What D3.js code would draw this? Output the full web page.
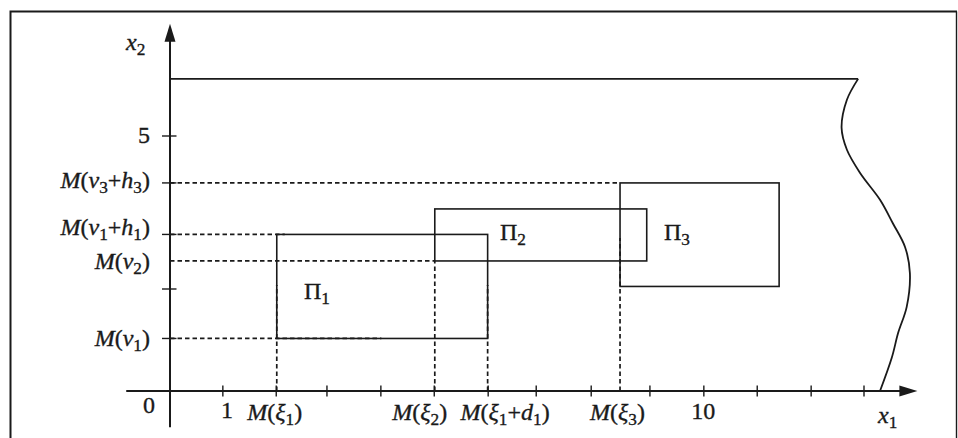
<!DOCTYPE html>
<html>
<head>
<meta charset="utf-8">
<script src="https://cdn.jsdelivr.net/npm/d3@7"></script>
<style>
  html, body { margin: 0; padding: 0; background: #fff; }
  svg { display: block; }
  text { font-family: "Liberation Serif", "Times New Roman", serif; fill: #1a1a1a; stroke: #1a1a1a; stroke-width: 0.35; }
</style>
</head>
<body>
<svg id="chart" width="958" height="438"></svg>
<script>
// ---------------- DATA ----------------
// x-axis tick positions (units of x1)
const xTicks = [0.99, 1.99, 2.94, 3.95, 4.95, 5.96, 6.86, 7.89, 8.99, 10.0, 11.0, 12.01, 13.0];
// labelled x positions
const xLabels = [
  { v: 0,    text: "0" },
  { v: 1,    text: "1" },
  { v: 2,    text: "M(ξ_1)" },
  { v: 4.96, text: "M(ξ_2)" },
  { v: 5.95, text: "M(ξ_1+d_1)" },
  { v: 8.43, text: "M(ξ_3)" },
  { v: 10,   text: "10" }
];
// y-axis tick positions (units of x2)
const yTicks = [1.03, 2, 3.07, 4.08, 5];
const yLabels = [
  { v: 5,    text: "5" },
  { v: 4.08, text: "M(ν_3+h_3)" },
  { v: 3.07, text: "M(ν_1+h_1)" },
  { v: 2.55, text: "M(ν_2)" },
  { v: 1.03, text: "M(ν_1)" }
];
// rectangles Π1, Π2, Π3 : [x0, x1, y0, y1]
const rectNames = ["Π_1", "Π_2", "Π_3"];
const rectX0 = [2, 4.96, 8.43];
const rectX1 = [5.95, 8.93, 11.41];
const rectY0 = [1.03, 2.55, 2.05];
const rectY1 = [3.07, 3.57, 4.08];
// dashed guide lines: horizontal [y, xFrom, xTo], vertical [x, yFrom, yTo]
const hDashY    = [1.03, 3.07, 2.55, 4.08];
const hDashFrom = [0, 0, 0, 0];
const hDashTo   = [3.96, 2.15, 4.96, 8.43];
const vDashX    = [2, 4.96, 5.95, 8.43];
const vDashFrom = [0, 0, 0, 0];
const vDashTo   = [2.08, 2.55, 2.08, 3.0];
// upper boundary of the region
const topY = 6.12;
const boundaryX = [12.89, 12.68, 12.58, 12.68, 12.93, 13.30, 13.54, 13.77, 13.86, 13.80, 13.64, 13.52, 13.30];
const boundaryY = [6.12, 5.71, 5.16, 4.73, 4.27, 3.75, 3.29, 2.82, 2.31, 1.65, 1.14, 0.65, 0];
// axis extents
const xAxisFrom = -0.82, xAxisTo = 14.0;
const yAxisFrom = -0.71, yAxisTo = 7.2;

// ---------------- LAYOUT ----------------
const ink = "#1a1a1a";
const FS = 24;
const svg = d3.select("#chart");
svg.append("rect").attr("width", 958).attr("height", 438).attr("fill", "#fff");

const x = d3.scaleLinear().domain([0, 13]).range([170, 864]);
const y = d3.scaleLinear().domain([0, 5]).range([391, 136]);

// frame
svg.append("path")
  .attr("d", `M10.5,440 L10.5,11.5 L957,11.5`)
  .attr("fill", "none").attr("stroke", ink).attr("stroke-width", 2);
svg.append("line").attr("x1", 956.5).attr("x2", 956.5).attr("y1", 11.5).attr("y2", 440)
  .attr("stroke", ink).attr("stroke-width", 1.4);

// rich text helper: "_" makes next char subscript; latin/greek lowercase & M italic
function rich(sel, str, size) {
  sel.attr("font-size", size);
  let i = 0;
  let wasSub = false;
  while (i < str.length) {
    let ch = str[i];
    let sub = false;
    if (ch === "_") { sub = true; i++; ch = str[i]; }
    const italic = /[A-Za-zα-ωξν]/.test(ch) && ch !== "Π";
    const t = sel.append("tspan").text(ch);
    if (italic) t.attr("font-style", "italic");
    if (sub) {
      t.attr("font-size", size * 0.72).attr("dy", size * 0.2);
      wasSub = true;
    } else if (wasSub) {
      t.attr("dy", -size * 0.2);
      wasSub = false;
    }
    i++;
  }
  return sel;
}

// dashed guides
const dash = "4.5,3";
hDashY.forEach((v, k) => {
  svg.append("line")
    .attr("x1", x(hDashFrom[k])).attr("x2", x(hDashTo[k]))
    .attr("y1", y(v)).attr("y2", y(v))
    .attr("stroke", ink).attr("stroke-width", 1.7).attr("stroke-dasharray", dash);
});
vDashX.forEach((v, k) => {
  svg.append("line")
    .attr("x1", x(v)).attr("x2", x(v))
    .attr("y1", y(vDashFrom[k])).attr("y2", y(vDashTo[k]))
    .attr("stroke", ink).attr("stroke-width", 1.7).attr("stroke-dasharray", dash);
});

// rectangles
rectNames.forEach((n, k) => {
  svg.append("rect")
    .attr("x", x(rectX0[k])).attr("y", y(rectY1[k]))
    .attr("width", x(rectX1[k]) - x(rectX0[k]))
    .attr("height", y(rectY0[k]) - y(rectY1[k]))
    .attr("fill", "none").attr("stroke", ink).attr("stroke-width", 1.6);
});
// rectangle labels
const rectLabelAt = [[304, 299], [500, 240], [664, 240]];
rectNames.forEach((n, k) => {
  rich(svg.append("text").attr("x", rectLabelAt[k][0]).attr("y", rectLabelAt[k][1]), n, FS);
});

// upper boundary
svg.append("line")
  .attr("x1", x(0)).attr("x2", x(boundaryX[0]))
  .attr("y1", y(topY)).attr("y2", y(topY))
  .attr("stroke", ink).attr("stroke-width", 1.8);
const line = d3.line().x((d, i) => x(boundaryX[i])).y((d, i) => y(boundaryY[i])).curve(d3.curveCatmullRom.alpha(0.5));
svg.append("path").datum(boundaryX).attr("d", line)
  .attr("fill", "none").attr("stroke", ink).attr("stroke-width", 1.8);

// axes
svg.append("line").attr("x1", x(xAxisFrom)).attr("x2", x(xAxisTo) - 14)
  .attr("y1", y(0)).attr("y2", y(0)).attr("stroke", ink).attr("stroke-width", 2);
svg.append("path")
  .attr("d", `M${x(xAxisTo)},${y(0)} L${x(xAxisTo) - 18},${y(0) - 5.5} L${x(xAxisTo) - 18},${y(0) + 5.5} Z`)
  .attr("fill", ink);
svg.append("line").attr("x1", x(0)).attr("x2", x(0))
  .attr("y1", y(yAxisFrom)).attr("y2", y(yAxisTo) + 14).attr("stroke", ink).attr("stroke-width", 2);
svg.append("path")
  .attr("d", `M${x(0)},${y(yAxisTo)} L${x(0) - 5.5},${y(yAxisTo) + 18} L${x(0) + 5.5},${y(yAxisTo) + 18} Z`)
  .attr("fill", ink);

// ticks
xTicks.forEach(v => {
  svg.append("line").attr("x1", x(v)).attr("x2", x(v)).attr("y1", y(0) - 5.5).attr("y2", y(0) + 5.5)
    .attr("stroke", ink).attr("stroke-width", 1.4);
});
yTicks.forEach(v => {
  svg.append("line").attr("x1", x(0) - 8).attr("x2", x(0) + 6.5).attr("y1", y(v)).attr("y2", y(v))
    .attr("stroke", ink).attr("stroke-width", 1.4);
});

// x labels (centre of label relative to its value, and baseline)
const xLabelDx = [-21, 3.5, -2, -15, 17.5, -2.5, -0.5];
const xLabelBase = [413, 418, 420, 420, 420, 420, 419];
xLabels.forEach((d, k) => {
  rich(svg.append("text").attr("x", x(d.v) + xLabelDx[k]).attr("y", xLabelBase[k])
    .attr("text-anchor", "middle"), d.text, FS);
});
// y labels
const yLabelBase = [143.3, 188.3, 235, 268.7, 345.7];
yLabels.forEach((d, k) => {
  rich(svg.append("text").attr("x", 150).attr("y", yLabelBase[k])
    .attr("text-anchor", "end"), d.text, FS);
});
// axis names
rich(svg.append("text").attr("x", 126).attr("y", 50), "x_2", FS);
rich(svg.append("text").attr("x", 878).attr("y", 423), "x_1", FS);
</script>
</body>
</html>
